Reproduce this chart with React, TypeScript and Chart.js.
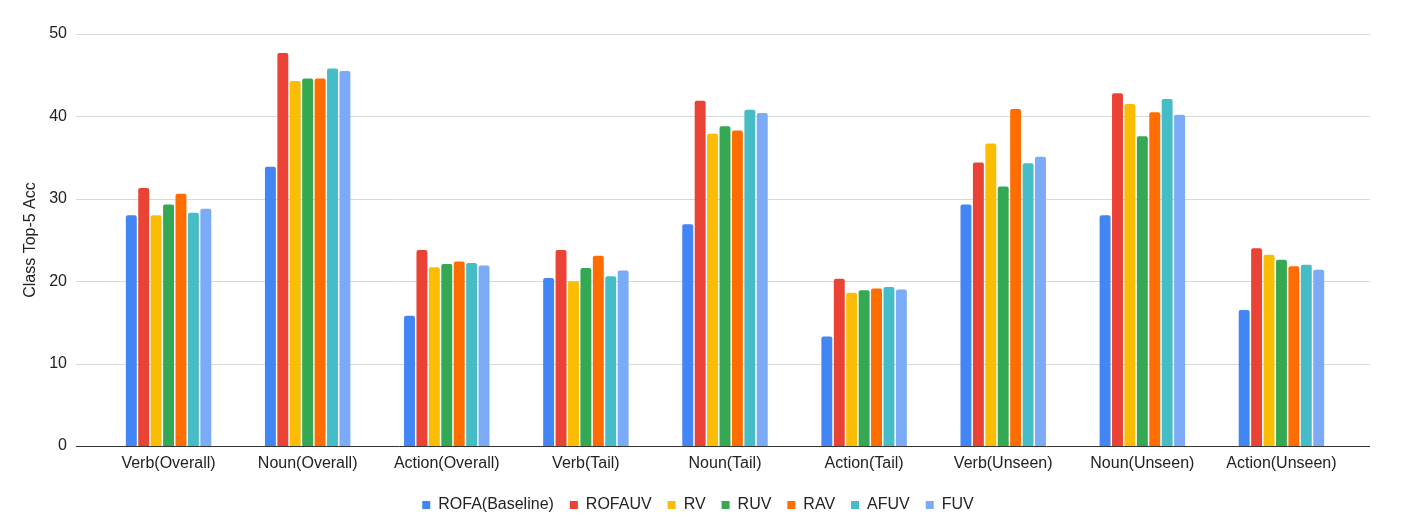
import React, { useEffect, useRef } from "react";
import { Chart, registerables } from "chart.js";

Chart.register(...registerables);

const categories = [
  "Verb(Overall)",
  "Noun(Overall)",
  "Action(Overall)",
  "Verb(Tail)",
  "Noun(Tail)",
  "Action(Tail)",
  "Verb(Unseen)",
  "Noun(Unseen)",
  "Action(Unseen)",
];

const seriesNames = ["ROFA(Baseline)", "ROFAUV", "RV", "RUV", "RAV", "AFUV", "FUV"];
const seriesColors = ["#4285F4", "#EA4335", "#FBBC04", "#34A853", "#FF6D01", "#46BDC6", "#7BAAF7"];

const rofaBaseline = [28.0, 33.9, 15.8, 20.4, 26.9, 13.3, 29.3, 28.0, 16.5];
const rofauv = [31.3, 47.7, 23.8, 23.8, 41.9, 20.3, 34.4, 42.8, 24.0];
const rv = [28.0, 44.3, 21.7, 20.0, 37.9, 18.6, 36.7, 41.5, 23.2];
const ruv = [29.3, 44.6, 22.1, 21.6, 38.8, 18.9, 31.5, 37.6, 22.6];
const rav = [30.6, 44.6, 22.4, 23.1, 38.3, 19.1, 40.9, 40.5, 21.8];
const afuv = [28.3, 45.8, 22.2, 20.6, 40.8, 19.3, 34.3, 42.1, 22.0];
const fuv = [28.8, 45.5, 21.9, 21.3, 40.4, 19.0, 35.1, 40.2, 21.4];

const seriesValues = [rofaBaseline, rofauv, rv, ruv, rav, afuv, fuv];

const yTicks = [0, 10, 20, 30, 40, 50];
const yTitle = "Class Top-5 Acc";

const FONT = "'Liberation Sans', Arial, sans-serif";
const GRID_EXTEND_LEFT = 23;
const GRID_EXTEND_RIGHT = 19;
const Y_AXIS_WIDTH = 78;
const X_AXIS_HEIGHT = 35;
const RIGHT_SPACER_WIDTH = 24;

const gridPlugin = {
  id: "extendedGrid",
  beforeDatasetsDraw(chart: any) {
    const { ctx, chartArea, scales } = chart;
    const y = scales.y;
    const x0 = chartArea.left - GRID_EXTEND_LEFT;
    const x1 = chartArea.right + GRID_EXTEND_RIGHT;
    ctx.save();
    yTicks.forEach((v) => {
      const py = Math.round(y.getPixelForValue(v)) + 0.5;
      ctx.beginPath();
      ctx.strokeStyle = v === 0 ? "#333333" : "#d9d9d9";
      ctx.lineWidth = 1;
      ctx.moveTo(x0, py);
      ctx.lineTo(x1, py);
      ctx.stroke();
    });
    ctx.restore();
  },
};

export default function App() {
  const canvasRef = useRef<HTMLCanvasElement | null>(null);

  useEffect(() => {
    document.body.style.margin = "0";
    const canvas = canvasRef.current;
    if (!canvas) return;
    const chart = new Chart(canvas, {
      type: "bar",
      data: {
        labels: categories,
        datasets: seriesNames.map((name, i) => ({
          label: name,
          data: seriesValues[i],
          backgroundColor: seriesColors[i],
          borderColor: seriesColors[i],
          borderWidth: 0,
          borderRadius: { topLeft: 2, topRight: 2, bottomLeft: 0, bottomRight: 0 },
          borderSkipped: false,
          barPercentage: 0.88,
          categoryPercentage: 0.625,
          yAxisID: "y",
        })),
      },
      plugins: [gridPlugin],
      options: {
        responsive: true,
        maintainAspectRatio: false,
        animation: false,
        layout: { padding: { left: 21, right: 37, top: 34, bottom: -1 } },
        plugins: {
          legend: {
            position: "bottom",
            labels: {
              font: { family: FONT, size: 16 },
              color: "#222",
              boxWidth: 8,
              boxHeight: 8,
              padding: 16,
            },
          },
          tooltip: { enabled: false },
        },
        scales: {
          x: {
            afterFit: (axis: any) => {
              axis.height = X_AXIS_HEIGHT;
            },
            grid: { display: false, drawTicks: false },
            border: { display: false },
            ticks: {
              font: { family: FONT, size: 16 },
              color: "#222",
              padding: 8,
              maxRotation: 0,
            },
          },
          y: {
            min: 0,
            max: 50,
            afterBuildTicks: (axis: any) => {
              axis.ticks = yTicks.map((v) => ({ value: v }));
            },
            afterFit: (axis: any) => {
              axis.width = Y_AXIS_WIDTH;
              axis.paddingTop = 0;
              axis.paddingBottom = 0;
            },
            grid: { display: false, drawTicks: false },
            border: { display: false },
            ticks: {
              font: { family: FONT, size: 16 },
              color: "#222",
              padding: 32,
            },
            title: {
              display: true,
              text: yTitle,
              font: { family: FONT, size: 16 },
              color: "#222",
              padding: { top: 0, bottom: 9 },
            },
          },
          ySpacer: {
            position: "right",
            min: 0,
            max: 50,
            afterFit: (axis: any) => {
              axis.width = RIGHT_SPACER_WIDTH;
              axis.paddingTop = 0;
              axis.paddingBottom = 0;
            },
            grid: { display: false, drawTicks: false },
            border: { display: false },
            ticks: { display: false },
          },
        },
      },
    });
    return () => chart.destroy();
  }, []);

  return (
    <div style={{ position: "fixed", left: 0, top: 0, width: 1412, height: 522 }}>
      <canvas ref={canvasRef} />
    </div>
  );
}
